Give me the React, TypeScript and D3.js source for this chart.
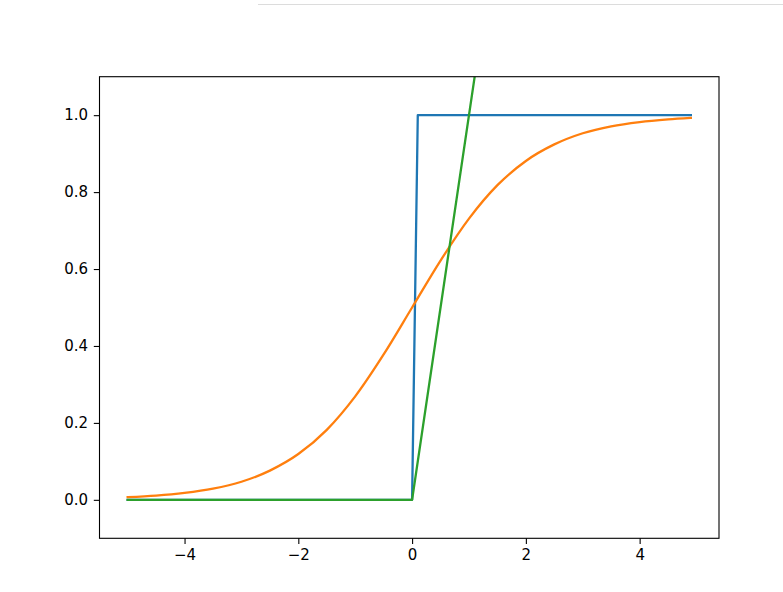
import React, { useEffect, useRef } from 'react'
import * as d3 from 'd3'

// step function breakpoints
const stepX = [-5, 0, 0.1, 4.9]
const stepY = [0, 0, 1, 1]

// sigmoid
const sigX = [-5, -4.5, -4, -3.5, -3, -2.5, -2, -1.5, -1, -0.5, 0, 0.5, 1, 1.5, 2, 2.5, 3, 3.5, 4, 4.5, 4.9]
const sigY = [0.007, 0.011, 0.018, 0.029, 0.047, 0.076, 0.119, 0.182, 0.269, 0.378, 0.5, 0.622, 0.731, 0.818, 0.881, 0.924, 0.953, 0.971, 0.982, 0.989, 0.993]

// relu breakpoints
const reluX = [-5, 0, 4.9]
const reluY = [0, 0, 4.9]

const xTicks = [-4, -2, 0, 2, 4]
const yTicks = [0.0, 0.2, 0.4, 0.6, 0.8, 1.0]

const W = 783
const H = 592

const App: React.FC = () => {
  const ref = useRef<SVGSVGElement | null>(null)

  useEffect(() => {
    if (!ref.current) return
    const svg = d3.select(ref.current)
    svg.selectAll('*').remove()

    const margin = { left: 99.5, right: 719, top: 76.7, bottom: 538.3 }
    const x = d3.scaleLinear().domain([-5.495, 5.395]).range([margin.left, margin.right])
    const y = d3.scaleLinear().domain([-0.1, 1.1]).range([margin.bottom, margin.top])

    // faint page line at top
    svg
      .append('line')
      .attr('x1', 258)
      .attr('x2', W)
      .attr('y1', 4.5)
      .attr('y2', 4.5)
      .attr('stroke', '#dcdcdc')
      .attr('stroke-width', 1)

    svg
      .append('defs')
      .append('clipPath')
      .attr('id', 'plot-clip')
      .append('rect')
      .attr('x', margin.left)
      .attr('y', margin.top)
      .attr('width', margin.right - margin.left)
      .attr('height', margin.bottom - margin.top)

    const plot = svg.append('g').attr('clip-path', 'url(#plot-clip)')

    const series = [
      { xs: stepX, ys: stepY, color: '#1f77b4', curve: d3.curveLinear },
      { xs: sigX, ys: sigY, color: '#ff7f0e', curve: d3.curveMonotoneX },
      { xs: reluX, ys: reluY, color: '#2ca02c', curve: d3.curveLinear },
    ]

    series.forEach((s) => {
      const pts = s.xs.map((v, i) => [v, s.ys[i]] as [number, number])
      const line = d3
        .line<[number, number]>()
        .x((d) => x(d[0]))
        .y((d) => y(d[1]))
        .curve(s.curve)
      plot
        .append('path')
        .attr('d', line(pts)!)
        .attr('fill', 'none')
        .attr('stroke', s.color)
        .attr('stroke-width', 2.3)
        .attr('stroke-linejoin', 'round')
        .attr('stroke-linecap', 'square')
    })

    const font = 'DejaVu Sans, sans-serif'
    const fs = 15
    const tickLen = 5.7

    const xAxis = svg
      .append('g')
      .attr('transform', `translate(0,${margin.bottom})`)
      .call(d3.axisBottom(x).tickValues(xTicks).tickSize(tickLen).tickPadding(5.7).tickFormat((d) => d3.format('d')(d as number).replace('-', '\u2212')))
    const yAxis = svg
      .append('g')
      .attr('transform', `translate(${margin.left},0)`)
      .call(d3.axisLeft(y).tickValues(yTicks).tickSize(tickLen).tickPadding(5.7).tickFormat(d3.format('.1f')))

    ;[xAxis, yAxis].forEach((g) => {
      g.select('.domain').remove()
      g.selectAll('line').attr('stroke', '#000').attr('stroke-width', 1.1)
      g.selectAll('text').attr('font-family', font).attr('font-size', fs).attr('fill', '#000')
    })

    svg
      .append('rect')
      .attr('x', margin.left)
      .attr('y', margin.top)
      .attr('width', margin.right - margin.left)
      .attr('height', margin.bottom - margin.top)
      .attr('fill', 'none')
      .attr('stroke', '#000')
      .attr('stroke-width', 1.1)
  }, [])

  return (
    <svg
      ref={ref}
      width={W}
      height={H}
      style={{ position: 'absolute', left: 0, top: 0, background: '#fff' }}
    ></svg>
  )
}

export default App
